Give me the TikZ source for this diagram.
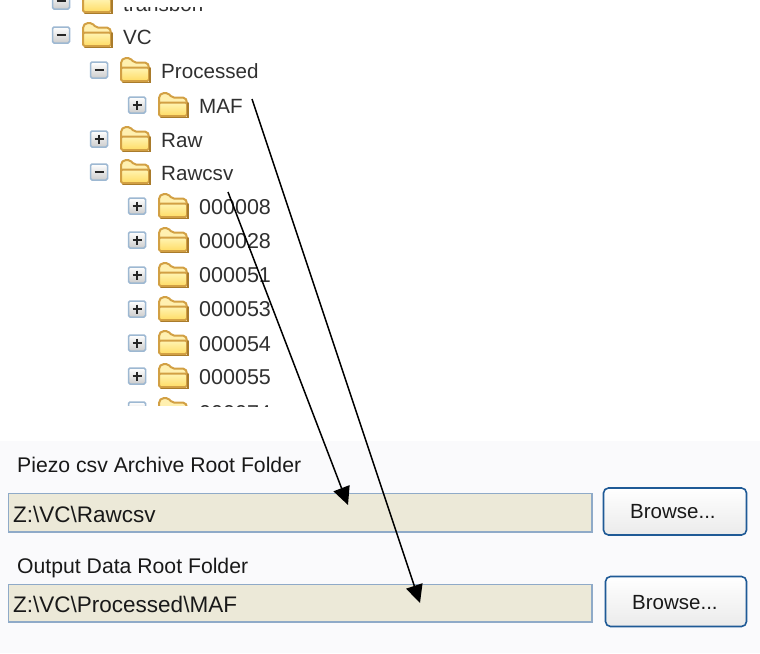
\documentclass[tikz,border=0pt]{standalone}
\usepackage{fontspec}
\setmainfont{Liberation Sans}
\usetikzlibrary{arrows.meta}
\definecolor{panelbg}{HTML}{FAFAFC}
\definecolor{fieldbg}{HTML}{ECE9D8}
\definecolor{fieldline}{HTML}{8FAAC8}
\definecolor{btnline}{HTML}{1F5A96}
\definecolor{goldline}{HTML}{D2A044}
\definecolor{golddark}{HTML}{A97B2B}
\definecolor{boxline}{HTML}{9DB8D2}
\definecolor{treetext}{HTML}{303030}
\definecolor{foldertop}{HTML}{FFF4B4}
\definecolor{folderbottom}{HTML}{FFDC64}
\definecolor{foldertab}{HTML}{FFF0B0}
\tikzset{
  treelabel/.style={anchor=base west,inner sep=0pt,text=treetext,font=\fontsize{20.6}{24}\selectfont},
  numlabel/.style={anchor=base west,inner sep=0pt,text=treetext,font=\fontsize{21.5}{24}\selectfont},
  dlglabel/.style={anchor=base west,inner sep=0pt,text=black!90,font=\fontsize{21.2}{24}\selectfont},
  vallabel/.style={anchor=base west,inner sep=0pt,text=black!90,font=\fontsize{22.5}{24}\selectfont},
  btnlabel/.style={anchor=base west,inner sep=0pt,text=black!90,font=\fontsize{20.5}{24}\selectfont},
  field/.style={draw=fieldline,line width=1.2pt,fill=fieldbg},
  browsebtn/.style={draw=btnline,line width=1.6pt,rounded corners=5pt,top color=white,bottom color=black!8},
  link/.style={draw=black,line width=1.5pt,-{Triangle[length=18pt,width=17pt]}},
  expander/.style={draw=boxline,line width=1.5pt,rounded corners=1.5pt,top color=white,bottom color=black!20},
  signmark/.style={draw=black!85,line width=1.6pt},
  folderback/.style={draw=goldline,line width=2pt,fill=foldertab,rounded corners=2pt},
  folderfront/.style={draw=goldline,line width=2pt,top color=foldertop,bottom color=folderbottom,rounded corners=1.5pt},
  foldershadow/.style={draw=golddark,line width=1.7pt,line cap=round},
}
\newcommand{\foldericon}[2]{%
  \begin{scope}[shift={(#1,#2)}]
    \path[folderback] (-14,10) -- (-14,-9) -- (-11,-12) -- (-5,-12) -- (-1,-7.5) -- (12,-7.5) -- (14,-4) -- (14,10) -- cycle;
    \path[folderfront] (-14,-2.5) -- (14,-2.5) -- (14,11) -- (-14,11) -- cycle;
    \draw[foldershadow] (-12,12.5) -- (15.2,12.5) -- (15.2,-2);
  \end{scope}}
\newcommand{\expandbox}[3]{% x y sign(0 minus, 1 plus)
  \begin{scope}[shift={(#1,#2)}]
    \path[expander] (-8.5,-8) rectangle (8.5,8);
    \draw[signmark] (-4.5,0) -- (4.5,0);
    \ifnum#3=1 \draw[signmark] (0,-4.5) -- (0,4.5);\fi
  \end{scope}}
\newcommand{\treeicons}[4]{% boxx folderx y sign
  \expandbox{#1}{#3}{#4}\foldericon{#2}{#3}}
\begin{document}
\begin{tikzpicture}[x=1pt,y=-1pt]
\useasboundingbox (0,0) rectangle (760,653);
\fill[white] (0,0) rectangle (760,653);
\fill[panelbg] (0,441) rectangle (760,653);

% tree icons, cut off at the top and the bottom
\begin{scope}
  \clip (0,0) rectangle (760,405);
  \treeicons{61}{97}{1}{0}
  \treeicons{61}{97}{35}{0}
  \treeicons{99}{135}{70}{0}
  \treeicons{137}{173}{105}{1}
  \treeicons{99}{135}{139}{1}
  \treeicons{99}{135}{172}{0}
  \treeicons{137}{173}{206}{1}
  \treeicons{137}{173}{240}{1}
  \treeicons{137}{173}{275}{1}
  \treeicons{137}{173}{309}{1}
  \treeicons{137}{173}{343}{1}
  \treeicons{137}{173}{376}{1}
  \treeicons{137}{173}{410}{0}
\end{scope}

% tree labels
\begin{scope}
  \clip (0,7) rectangle (760,406);
  \node[treelabel] (tTop) at (123,11) {transbon};
  \node[treelabel] (tVC) at (123,44) {VC};
  \node[treelabel] (tProcessed) at (161,78) {Processed};
  \node[treelabel] (tMAF) at (199,113) {MAF};
  \node[treelabel] (tRaw) at (161,147) {Raw};
  \node[treelabel] (tRawcsv) at (161,180) {Rawcsv};
  \node[numlabel] (t8) at (199,214) {000008};
  \node[numlabel] (t28) at (199,248) {000028};
  \node[numlabel] (t51) at (199,282) {000051};
  \node[numlabel] (t53) at (199,316) {000053};
  \node[numlabel] (t54) at (199,351) {000054};
  \node[numlabel] (t55) at (199,384) {000055};
  \node[numlabel] (t74) at (199,420) {000074};
\end{scope}

% dialog
\node[dlglabel] (lblPiezo) at (17,472) {Piezo csv Archive Root Folder};
\node[dlglabel] (lblOutput) at (17,573) {Output Data Root Folder};
\path[field] (8.5,493.5) rectangle (592,532);
\path[field] (8.5,584.5) rectangle (592,622);
\node[vallabel] (valRaw) at (13,522) {Z:\textbackslash VC\textbackslash Rawcsv};
\node[vallabel] (valMAF) at (13,612) {Z:\textbackslash VC\textbackslash Processed\textbackslash MAF};
\path[browsebtn] (603.5,488) rectangle (746.5,535);
\path[browsebtn] (605.5,576.5) rectangle (746.5,626.5);
\node[btnlabel] (btnTop) at (630,518) {Browse...};
\node[btnlabel] (btnBottom) at (632,609) {Browse...};

% connectors
\coordinate (fromMAF) at (252,99);
\coordinate (toMAF) at (420,603);
\coordinate (fromRaw) at (228,192);
\coordinate (toRaw) at (348,505);
\draw[link] (fromMAF) -- (toMAF);
\draw[link] (fromRaw) -- (toRaw);
\end{tikzpicture}
\end{document}
